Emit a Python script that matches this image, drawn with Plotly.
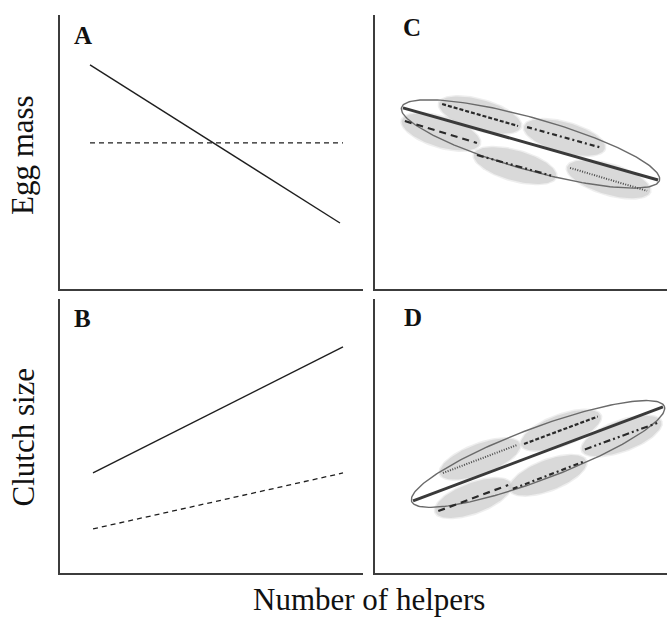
import numpy as np
import plotly.graph_objects as go

W, H = 667, 618

# ---- Panel A: egg mass vs number of helpers ----
a_x = [0.99, 9.24]
a_solid = [8.18, 2.41]
a_dash_x = [0.99, 9.34]
a_dash = [5.33, 5.33]

# ---- Panel B: clutch size vs number of helpers ----
b_x = [1.09, 9.34]
b_solid = [3.65, 8.25]
b_dash = [1.61, 3.65]

# ---- Panel C: egg mass, population trend and within-group slopes ----
c_trend_x = [1.02, 10.33]
c_trend_y = [6.61, 3.98]
c_x0 = [1.09, 2.45, 3.72, 5.55, 7.12]
c_x1 = [3.72, 5.22, 6.50, 8.28, 9.93]
c_y0 = [6.13, 6.75, 4.89, 5.91, 4.42]
c_y1 = [5.33, 5.95, 4.12, 5.15, 3.58]

# ---- Panel D: clutch size, population trend and within-group slopes ----
d_trend_x = [1.39, 10.51]
d_trend_y = [2.63, 6.06]
d_x0 = [2.48, 5.44, 7.66, 2.31, 5.03]
d_x1 = [5.18, 8.13, 10.34, 4.86, 7.60]
d_y0 = [3.65, 4.71, 4.51, 2.26, 3.07]
d_y1 = [4.67, 5.71, 5.49, 3.21, 4.06]

# line style per group (same order as the group arrays)
c_styles = ["longdash", "shortdash", "dashdotdot", "dashdot", "dotted"]
d_styles = ["dotted", "shortdash", "dashdotdot", "longdash", "dashdot"]

DASHES = {
    "longdash": ("7px,5px", 2.2, "#2a2a2a"),
    "shortdash": ("4px,2px", 2.2, "#2a2a2a"),
    "dashdotdot": ("7px,3px,2px,3px,2px,3px", 2.2, "#2a2a2a"),
    "dashdot": ("5px,3px,2px,3px", 2.2, "#2a2a2a"),
    "dotted": ("1px,1.5px", 2.0, "#4a4a4a"),
}

SERIF = "Liberation Serif"
PX = 27.4  # pixels per unit in panels C and D (equal on both axes)

fig = go.Figure()


def ellipse(x0, y0, x1, y1, pad, semi_minor, n=120):
    """Closed ellipse whose major axis runs along the segment (x0,y0)-(x1,y1)."""
    cx, cy = (x0 + x1) / 2, (y0 + y1) / 2
    th = np.arctan2(y1 - y0, x1 - x0)
    a = np.hypot(x1 - x0, y1 - y0) / 2 + pad
    t = np.linspace(0, 2 * np.pi, n)
    ex = cx + a * np.cos(t) * np.cos(th) - semi_minor * np.sin(t) * np.sin(th)
    ey = cy + a * np.cos(t) * np.sin(th) + semi_minor * np.sin(t) * np.cos(th)
    return ex, ey


def add_line(x, y, xa, ya, dash="solid", width=1.4, color="#1e1e1e"):
    fig.add_trace(go.Scatter(x=x, y=y, xaxis=xa, yaxis=ya, mode="lines",
                             line=dict(color=color, width=width, dash=dash),
                             hoverinfo="skip", showlegend=False))


def add_group_panel(xa, ya, tx, ty, x0, x1, y0, y1, styles):
    # soft grey clouds around each group
    for i in range(len(x0)):
        for grow, alpha in [(1.5, 0.30), (0.0, 0.56)]:
            ex, ey = ellipse(x0[i], y0[i], x1[i], y1[i],
                             (3 + grow) / PX, (15 + grow) / PX)
            fig.add_trace(go.Scatter(x=ex, y=ey, xaxis=xa, yaxis=ya,
                                     mode="lines", fill="toself",
                                     fillcolor=f"rgba(200,200,200,{alpha})",
                                     line=dict(width=0), hoverinfo="skip",
                                     showlegend=False))
    # outline of the whole population
    ex, ey = ellipse(tx[0], ty[0], tx[1], ty[1], 1.5 / PX, 26 / PX, n=200)
    add_line(ex, ey, xa, ya, width=1.4, color="#6a6a6a")
    # population-level trend
    add_line(tx, ty, xa, ya, width=3.0, color="#3a3a3a")
    # within-group slopes
    for i, s in enumerate(styles):
        dash, w, col = DASHES[s]
        add_line([x0[i], x1[i]], [y0[i], y1[i]], xa, ya, dash=dash, width=w, color=col)


# panel A
add_line(a_x, a_solid, "x", "y")
add_line(a_dash_x, a_dash, "x", "y", dash="5px,4px", width=1.3)
# panel B
add_line(b_x, b_solid, "x3", "y3")
add_line(b_x, b_dash, "x3", "y3", dash="5px,4px", width=1.3)
# panels C and D
add_group_panel("x2", "y2", c_trend_x, c_trend_y, c_x0, c_x1, c_y0, c_y1, c_styles)
add_group_panel("x4", "y4", d_trend_x, d_trend_y, d_x0, d_x1, d_y0, d_y1, d_styles)

# panel geometry in pixels
LEFT = (60, 363)
RIGHT = (375, 667)
TOP = (15, 289)
BOTTOM = (299, 573)


def xdom(p):
    return [p[0] / W, p[1] / W]


def ydom(p):
    return [1 - p[1] / H, 1 - p[0] / H]


axis_common = dict(showline=True, linecolor="#3c3c3c", linewidth=2,
                   showgrid=False, zeroline=False, showticklabels=False,
                   ticks="", mirror=False, fixedrange=True)

iso_x = (RIGHT[1] - RIGHT[0]) / PX

fig.update_layout(
    width=W, height=H,
    margin=dict(l=0, r=0, t=0, b=0),
    paper_bgcolor="white", plot_bgcolor="white",
    font=dict(family=SERIF),
    xaxis=dict(domain=xdom(LEFT), anchor="y", range=[0, 10], **axis_common),
    yaxis=dict(domain=ydom(TOP), anchor="x", range=[0, 10], **axis_common),
    xaxis2=dict(domain=xdom(RIGHT), anchor="y2", range=[0, iso_x], **axis_common),
    yaxis2=dict(domain=ydom(TOP), anchor="x2", range=[0, 10], **axis_common),
    xaxis3=dict(domain=xdom(LEFT), anchor="y3", range=[0, 10], **axis_common),
    yaxis3=dict(domain=ydom(BOTTOM), anchor="x3", range=[0, 10], **axis_common),
    xaxis4=dict(domain=xdom(RIGHT), anchor="y4", range=[0, iso_x], **axis_common),
    yaxis4=dict(domain=ydom(BOTTOM), anchor="x4", range=[0, 10], **axis_common),
)

# panel letters
for txt, px, py in [("A", 72, 35), ("C", 401, 27.5), ("B", 72, 318.5), ("D", 402, 317)]:
    fig.add_annotation(text=f"<b>{txt}</b>", x=px / W, y=1 - py / H,
                       xref="paper", yref="paper", xanchor="left", yanchor="middle",
                       showarrow=False, font=dict(family=SERIF, size=25, color="#111"))

# axis titles
fig.add_annotation(text="Egg mass", x=23 / W, y=1 - 155 / H, xref="paper", yref="paper",
                   textangle=-90, xanchor="center", yanchor="middle", showarrow=False,
                   font=dict(family=SERIF, size=31, color="#111"))
fig.add_annotation(text="Clutch size", x=23 / W, y=1 - 437.5 / H, xref="paper", yref="paper",
                   textangle=-90, xanchor="center", yanchor="middle", showarrow=False,
                   font=dict(family=SERIF, size=31, color="#111"))
fig.add_annotation(text="Number of helpers", x=369 / W, y=0, xref="paper", yref="paper",
                   xanchor="center", yanchor="bottom", showarrow=False, borderpad=0,
                   font=dict(family=SERIF, size=31, color="#111"))

fig.write_html("out.html")
